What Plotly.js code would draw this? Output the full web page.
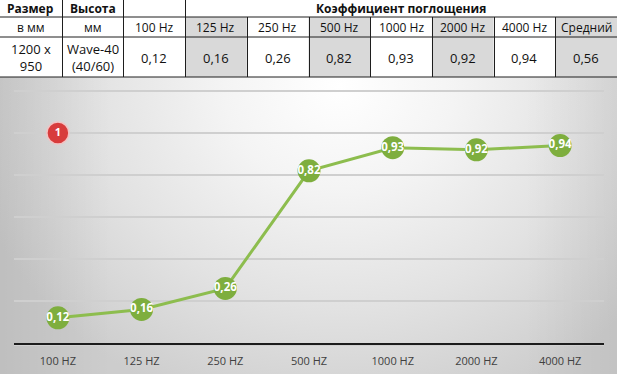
<!DOCTYPE html>
<html>
<head>
<meta charset="utf-8">
<script src="https://cdn.plot.ly/plotly-3.0.1.min.js"></script>
<style>
  html, body { margin: 0; padding: 0; background: #ffffff; }
  #wrap { position: relative; width: 617px; height: 374px; overflow: hidden; }
  #bg { position: absolute; left: 0; top: 77px; width: 617px; height: 297px;
        background:
          linear-gradient(to right, rgba(0,0,0,0.07) 0%, rgba(0,0,0,0) 18%, rgba(0,0,0,0) 85%, rgba(0,0,0,0.05) 100%),
          radial-gradient(ellipse 62% 115% at 55% 3%, #ffffff 0%, #f4f4f4 30%, #e2e2e2 65%, #cdcdcd 100%); }
  #chart { position: absolute; left: 0; top: 0; width: 617px; height: 374px; }
</style>
</head>
<body>
<div id="wrap"><div id="bg"></div><div id="chart"></div></div>
<script>
// ---- data ----
const categories = ['100 HZ', '125 HZ', '250 HZ', '500 HZ', '1000 HZ', '2000 HZ', '4000 HZ'];
const freqLabels = ['100 Hz', '125 Hz', '250 Hz', '500 Hz', '1000 Hz', '2000 Hz', '4000 Hz'];
const values = [0.12, 0.16, 0.26, 0.82, 0.93, 0.92, 0.94];
const averageValue = 0.56;
const averageLabel = 'Средний';
const headerTop = ['Размер', 'Высота', '', 'Коэффициент поглощения'];
const headerSub = ['в мм', 'мм'];
const rowInfo = ['1200 x<br>950', 'Wave-40<br>(40/60)'];
const badgeLabel = '1';
const badgeLevel = 1.0;

// ---- helpers ----
const W = 617, H = 374;
const px = x => x / W;
const py = y => 1 - y / H;
const colW = W / 10;
const fmt = v => v.toFixed(2).replace('.', ',');
const FONT = 'Open Sans, Noto Sans, sans-serif';

const shapes = [];
const annotations = [];

// gray cells (125, 500, 2000, average)
[3, 5, 7, 9].forEach(c => {
  shapes.push({type: 'rect', xref: 'paper', yref: 'paper',
    x0: px(c * colW), x1: px((c + 1) * colW), y0: py(77), y1: py(17),
    fillcolor: '#d9d9d9', line: {width: 0}, layer: 'below'});
});
const lineStyle = {color: '#1e1e1e', width: 1};
[17, 37, 77].forEach(y => {
  shapes.push({type: 'line', xref: 'paper', yref: 'paper', x0: 0, x1: 1, y0: py(y), y1: py(y), line: lineStyle});
});
for (let c = 1; c < 10; c++) {
  const top = c <= 3 ? 0 : 17;
  shapes.push({type: 'line', xref: 'paper', yref: 'paper',
    x0: px(Math.round(c * colW) + 0.5), x1: px(Math.round(c * colW) + 0.5), y0: py(77), y1: py(top), line: lineStyle});
}
// thin highlight under the x axis line
shapes.push({type: 'line', xref: 'paper', yref: 'paper', x0: px(14), x1: px(604), y0: py(345.5), y1: py(345.5),
  line: {color: 'rgba(255,255,255,0.8)', width: 1}});

function cellText(text, col, span, yc, size, bold) {
  annotations.push({xref: 'paper', yref: 'paper', x: px((col + span / 2) * colW), y: py(yc),
    text: text, showarrow: false, xanchor: 'center', yanchor: 'middle',
    font: {family: FONT, size: size, color: '#111111', weight: bold ? 'bold' : 'normal'}});
}
cellText(headerTop[0], 0, 1, 8.5, 12, true);
cellText(headerTop[1], 1, 1, 8.5, 12, true);
cellText(headerTop[2], 2, 1, 8.5, 12, true);
cellText(headerTop[3], 3, 7, 8.5, 12, true);
const subTexts = [headerSub[0], headerSub[1]].concat(freqLabels).concat([averageLabel]);
subTexts.forEach((t, i) => cellText(t, i, 1, 27.5, 12, false));
const valTexts = rowInfo.concat(values.map(fmt)).concat([fmt(averageValue)]);
valTexts.forEach((t, i) => cellText(t, i, 1, 57.5, 13, false));

// ---- traces ----
const lineTrace = {
  type: 'scatter', mode: 'lines+markers+text',
  x: categories, y: values,
  text: values.map(fmt), textposition: 'middle center',
  textfont: {family: FONT, size: 11.5, color: '#ffffff', weight: 'bold'},
  line: {color: '#8dbd4e', width: 3},
  marker: {size: 23, color: '#7eae3e'},
  cliponaxis: false, hoverinfo: 'skip'
};
const badgeTrace = {
  type: 'scatter', mode: 'markers+text',
  x: [categories[0]], y: [badgeLevel],
  text: [badgeLabel], textposition: 'middle center',
  textfont: {family: FONT, size: 11, color: '#ffffff', weight: 'bold'},
  marker: {size: 22, color: '#d83c3c', line: {color: '#f2c4c4', width: 1.5}},
  cliponaxis: false, hoverinfo: 'skip'
};

const yTop = 1.21;
const layout = {
  width: W, height: H,
  margin: {l: 0, r: 0, t: 0, b: 0},
  paper_bgcolor: 'rgba(0,0,0,0)', plot_bgcolor: 'rgba(0,0,0,0)',
  showlegend: false,
  xaxis: {domain: [px(14), px(604)], type: 'category', showgrid: false,
    showline: true, linecolor: '#1c1c1c', linewidth: 3, ticks: '',
    ticklabelstandoff: 6,
    tickfont: {family: FONT, size: 11, color: '#404040'}, fixedrange: true},
  yaxis: {domain: [py(343), py(343 - yTop * 210)], range: [0, yTop], dtick: 0.2,
    showticklabels: false, gridcolor: '#cfcfcf', gridwidth: 1.2,
    zeroline: false, showline: false, fixedrange: true},
  shapes: shapes,
  annotations: annotations
};

Plotly.newPlot('chart', [lineTrace, badgeTrace], layout, {staticPlot: true, displayModeBar: false});
</script>
</body>
</html>
